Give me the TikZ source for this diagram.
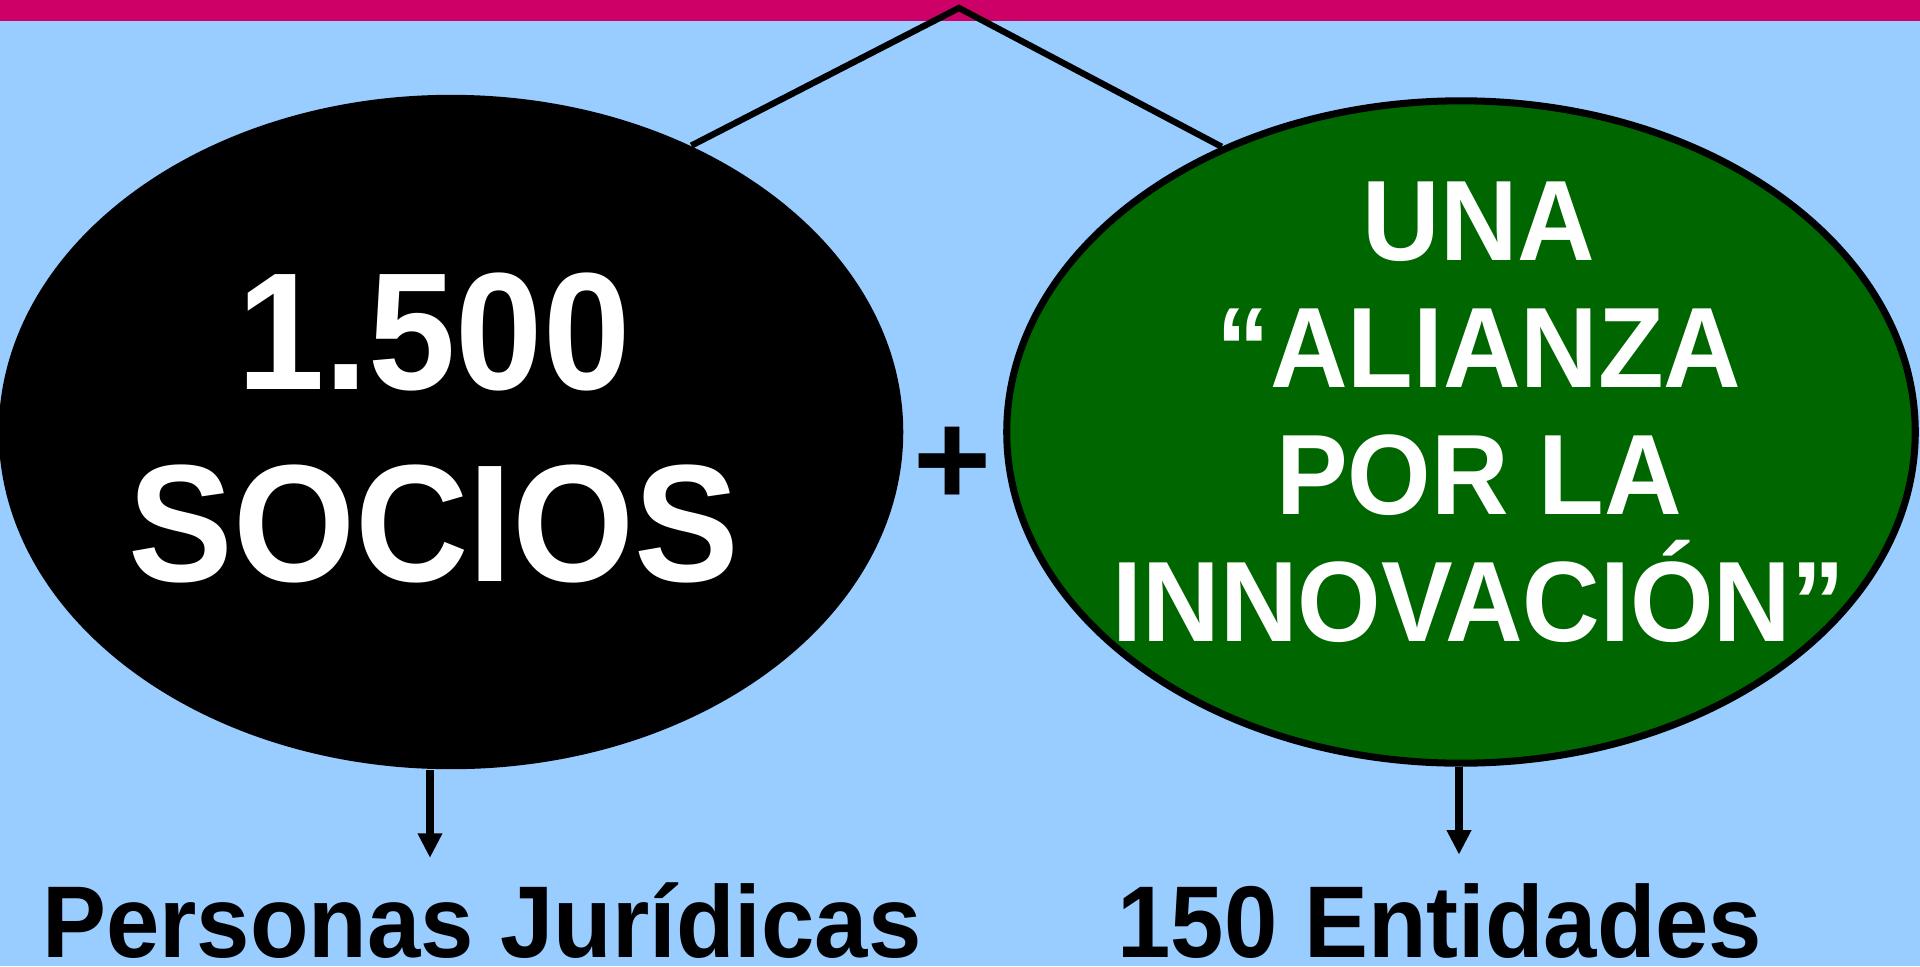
\documentclass[tikz,border=0pt]{standalone}
\usepackage{fontspec}
\setmainfont{Liberation Sans}
\newfontfamily\altafont[FakeStretch=0.94]{Liberation Sans}
\usetikzlibrary{shapes.geometric,arrows.meta,positioning}

\definecolor{fondo}{HTML}{99CCFF}
\definecolor{barra}{HTML}{CC0066}
\definecolor{verde}{HTML}{006600}

\tikzset{
  elipse/.style={ellipse, inner sep=0pt},
  blanco/.style={text=white, align=center, inner sep=0pt},
  flecha/.style={-{Triangle[length=7pt,width=6.6pt]}, line width=2pt},
  rama/.style={line width=1.8pt},
  pie/.style={font=\altafont\fontsize{29}{32}\selectfont\bfseries, anchor=base, inner sep=0pt}
}

\begin{document}
\begin{tikzpicture}[x=0.01cm, y=-0.01cm]
  % Fondo y barra superior
  \useasboundingbox (0,0) rectangle (1920,966);
  \fill[fondo] (0,0) rectangle (1920,966);
  \fill[barra] (0,0) rectangle (1920,21);

  % Elipses
  \node[elipse, fill=black, minimum width=9.04cm, minimum height=6.74cm] (socios) at (451,432) {};
  \node[elipse, fill=verde, draw=black, line width=2pt, minimum width=9.08cm, minimum height=6.62cm] (alianza) at (1461,432) {};

  % Textos de las elipses
  \node[blanco, font=\altafont\fontsize{47.5}{54.6}\selectfont\bfseries] (sociostxt) at (434,428) {1.500\\SOCIOS};
  \node[blanco, font=\altafont\fontsize{32.5}{36.1}\selectfont\bfseries] (alianzatxt) at (1479,412) {UNA\\“ALIANZA\\POR LA\\INNOVACIÓN”};

  % Signo más
  \node[font=\fontsize{38}{40}\selectfont\bfseries, inner sep=0pt] (mas) at (953,466) {+};

  % Ramas desde la barra
  \coordinate (cima) at (959,8);
  \draw[rama] (socios.50) -- (cima) -- (alianza.130);

  % Textos inferiores
  \node[pie] (juridicas) at (482,957) {Personas Jurídicas};
  \node[pie] (entidades) at (1440,957) {150 Entidades};

  % Flechas
  \draw[flecha] ([xshift=-0.21cm]socios.south) -- ++(0,88);
  \draw[flecha] ([xshift=-0.02cm]alianza.south) -- ++(0,88);
\end{tikzpicture}
\end{document}
